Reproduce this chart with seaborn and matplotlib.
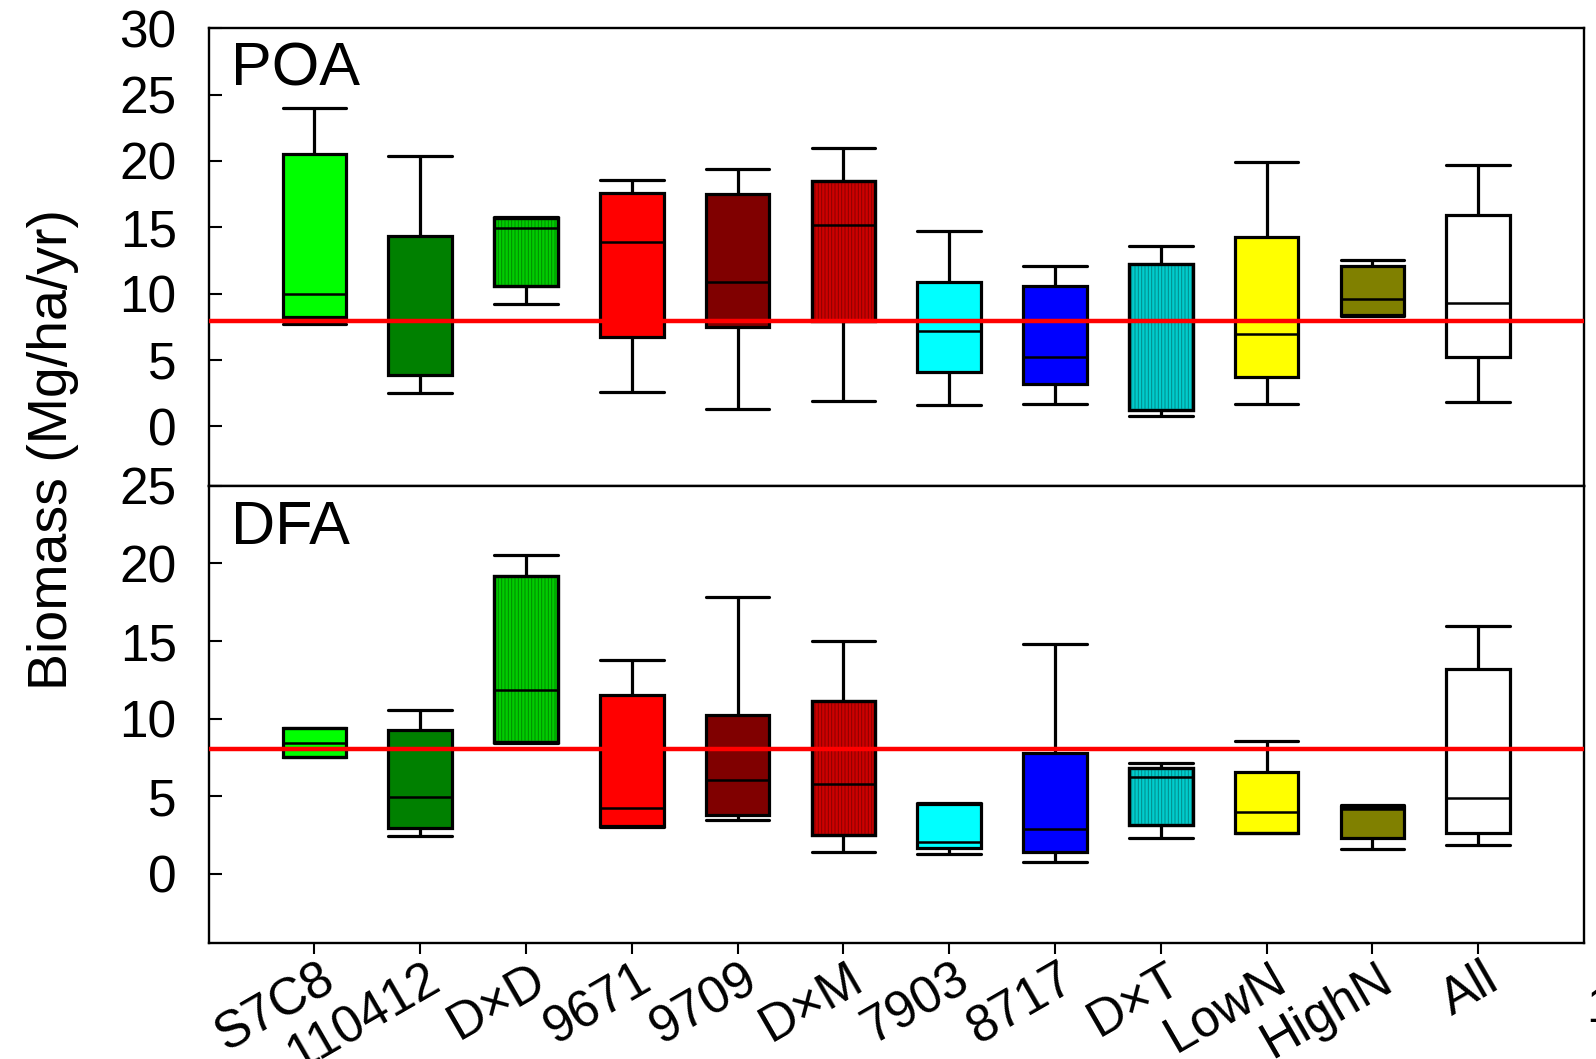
import numpy as np
import pandas as pd
import matplotlib
matplotlib.use("Agg")
import matplotlib.pyplot as plt
import matplotlib.colors as mcolors
import matplotlib.transforms as mtransforms
from matplotlib.patches import PathPatch
import seaborn as sns

# ---------------- data ----------------
categories = ["S7C8", "110412", "D×D", "9671", "9709", "D×M",
              "7903", "8717", "D×T", "LowN", "HighN", "All"]
box_colors = ["#00ff00", "#008000", "#00cc00", "#ff0000", "#800000", "#cc0000",
              "#00ffff", "#0000ff", "#00cccc", "#ffff00", "#808000", "#ffffff"]
hatched = {"D×D": "#008a00", "D×M": "#8a0000", "D×T": "#008a8a"}

# POA panel: whisker low, Q1, median, Q3, whisker high
poa_low = [7.7, 2.5, 9.2, 2.6, 1.3, 1.9, 1.6, 1.7, 0.8, 1.7, 8.3, 1.8]
poa_q1 = [8.2, 3.9, 10.6, 6.7, 7.5, 7.95, 4.1, 3.2, 1.2, 3.7, 8.4, 5.2]
poa_med = [10.0, 7.9, 14.95, 13.9, 10.85, 15.15, 7.2, 5.2, 7.9, 6.95, 9.6, 9.3]
poa_q3 = [20.55, 14.35, 15.7, 17.6, 17.5, 18.5, 10.9, 10.6, 12.2, 14.25, 12.05, 15.95]
poa_high = [24.0, 20.4, 15.8, 18.6, 19.4, 21.0, 14.75, 12.05, 13.6, 19.95, 12.55, 19.7]

# DFA panel
dfa_low = [7.5, 2.43, 8.45, 3.0, 3.44, 1.4, 1.29, 0.77, 2.32, 2.6, 1.61, 1.85]
dfa_q1 = [7.55, 2.92, 8.49, 3.07, 3.76, 2.47, 1.63, 1.42, 3.14, 2.64, 2.28, 2.64]
dfa_med = [8.45, 4.97, 11.85, 4.21, 6.02, 5.8, 2.06, 2.86, 6.26, 4.0, 4.15, 4.9]
dfa_q3 = [9.37, 9.25, 19.2, 11.52, 10.21, 11.14, 4.52, 7.76, 6.8, 6.58, 4.32, 13.18]
dfa_high = [9.4, 10.54, 20.58, 13.78, 17.87, 15.0, 4.55, 14.8, 7.12, 8.56, 4.4, 15.95]

ref_lines = [7.95, 8.05]
panel_labels = ["POA", "DFA"]
poa_yticks = [0, 5, 10, 15, 20, 25, 30]
dfa_yticks = [0, 5, 10, 15, 20, 25]
y_label = "Biomass (Mg/ha/yr)"

# ---------------- style ----------------
sns.set_theme(style="ticks")
plt.rcParams["font.family"] = ["Liberation Sans", "DejaVu Sans"]
plt.rcParams["hatch.linewidth"] = 0.7


def make_df(lo, q1, med, q3, hi):
    rows = []
    for c, a, b, m, d, e in zip(categories, lo, q1, med, q3, hi):
        for v in (a, b, m, d, e):
            rows.append((c, v))
    return pd.DataFrame(rows, columns=["genotype", "biomass"])


def draw(ax, df, ref, ylim, yticks, label, label_y):
    palette = dict(zip(categories, box_colors))
    sns.boxplot(data=df, x="genotype", y="biomass", hue="genotype",
                order=categories, hue_order=categories, palette=palette,
                saturation=1, whis=(0, 100), width=0.6, linewidth=2.3,
                linecolor="black", fliersize=0, legend=False, ax=ax,
                capwidths=0.6, medianprops=dict(linewidth=1.8))
    # vertical-line hatching on the cross boxes
    hatch_map = [(mcolors.to_rgba(box_colors[categories.index(k)]), v)
                 for k, v in hatched.items()]
    zmax = 2
    for p in list(ax.patches):
        zmax = max(zmax, p.get_zorder())
        for rgba, hc in hatch_map:
            if np.allclose(p.get_facecolor(), rgba, atol=0.01):
                ov = PathPatch(p.get_path(), transform=p.get_transform(),
                               facecolor="none", edgecolor=hc, linewidth=0,
                               hatch="|||||", zorder=p.get_zorder() + 0.01)
                ax.add_patch(ov)
                ol = PathPatch(p.get_path(), transform=p.get_transform(),
                               facecolor="none", edgecolor="black",
                               linewidth=p.get_linewidth(),
                               zorder=p.get_zorder() + 0.02)
                ax.add_patch(ol)
    for ln in ax.lines:
        ln.set_zorder(zmax + 0.1)
    ax.axhline(ref, color="#ff0000", linewidth=3.2, zorder=10)

    ax.set_xlim(-1, len(categories))
    ax.set_ylim(*ylim)
    ax.set_yticks(yticks)
    ax.set_yticklabels([str(t) for t in yticks])
    ax.tick_params(axis="y", direction="in", length=9.5, width=1.5, pad=23,
                   labelsize=37, colors="black")
    ax.set_xlabel("")
    ax.set_ylabel("")
    for s in ax.spines.values():
        s.set_visible(True)
        s.set_linewidth(1.7)
        s.set_color("black")
    ax.text(0.016, label_y, label, transform=ax.transAxes, fontsize=44,
            ha="left", va="baseline", color="black")


fig = plt.figure(figsize=(15.96, 10.59), dpi=100)
ax_top = fig.add_axes([0.1307, 0.5411, 0.8618, 0.4322])
ax_bot = fig.add_axes([0.1307, 0.1092, 0.8618, 0.4319])

draw(ax_top, make_df(poa_low, poa_q1, poa_med, poa_q3, poa_high),
     ref_lines[0], (-4.5, 30), poa_yticks, panel_labels[0], 0.876)
draw(ax_bot, make_df(dfa_low, dfa_q1, dfa_med, dfa_q3, dfa_high),
     ref_lines[1], (-4.5, 25), dfa_yticks, panel_labels[1], 0.873)

ax_top.tick_params(axis="x", bottom=False, labelbottom=False)
ax_bot.set_xticks(range(len(categories)))
ax_bot.set_xticklabels(categories, rotation=30, ha="right", va="top",
                       rotation_mode="anchor")
ax_bot.tick_params(axis="x", direction="out", length=8, width=1.5, pad=0,
                   labelsize=37, colors="black")
shift = mtransforms.ScaledTranslation(0.04, 0.0, fig.dpi_scale_trans)
for t in ax_bot.get_xticklabels():
    t.set_transform(t.get_transform() + shift)

fig.text(0.0329, 0.576, y_label, rotation=90, ha="center", va="center",
         fontsize=40, color="black")
fig.text(0.9936, 0.035, "1", ha="left", va="baseline", fontsize=36,
         color="black")

fig.savefig("out.png", dpi=100, facecolor="white")
